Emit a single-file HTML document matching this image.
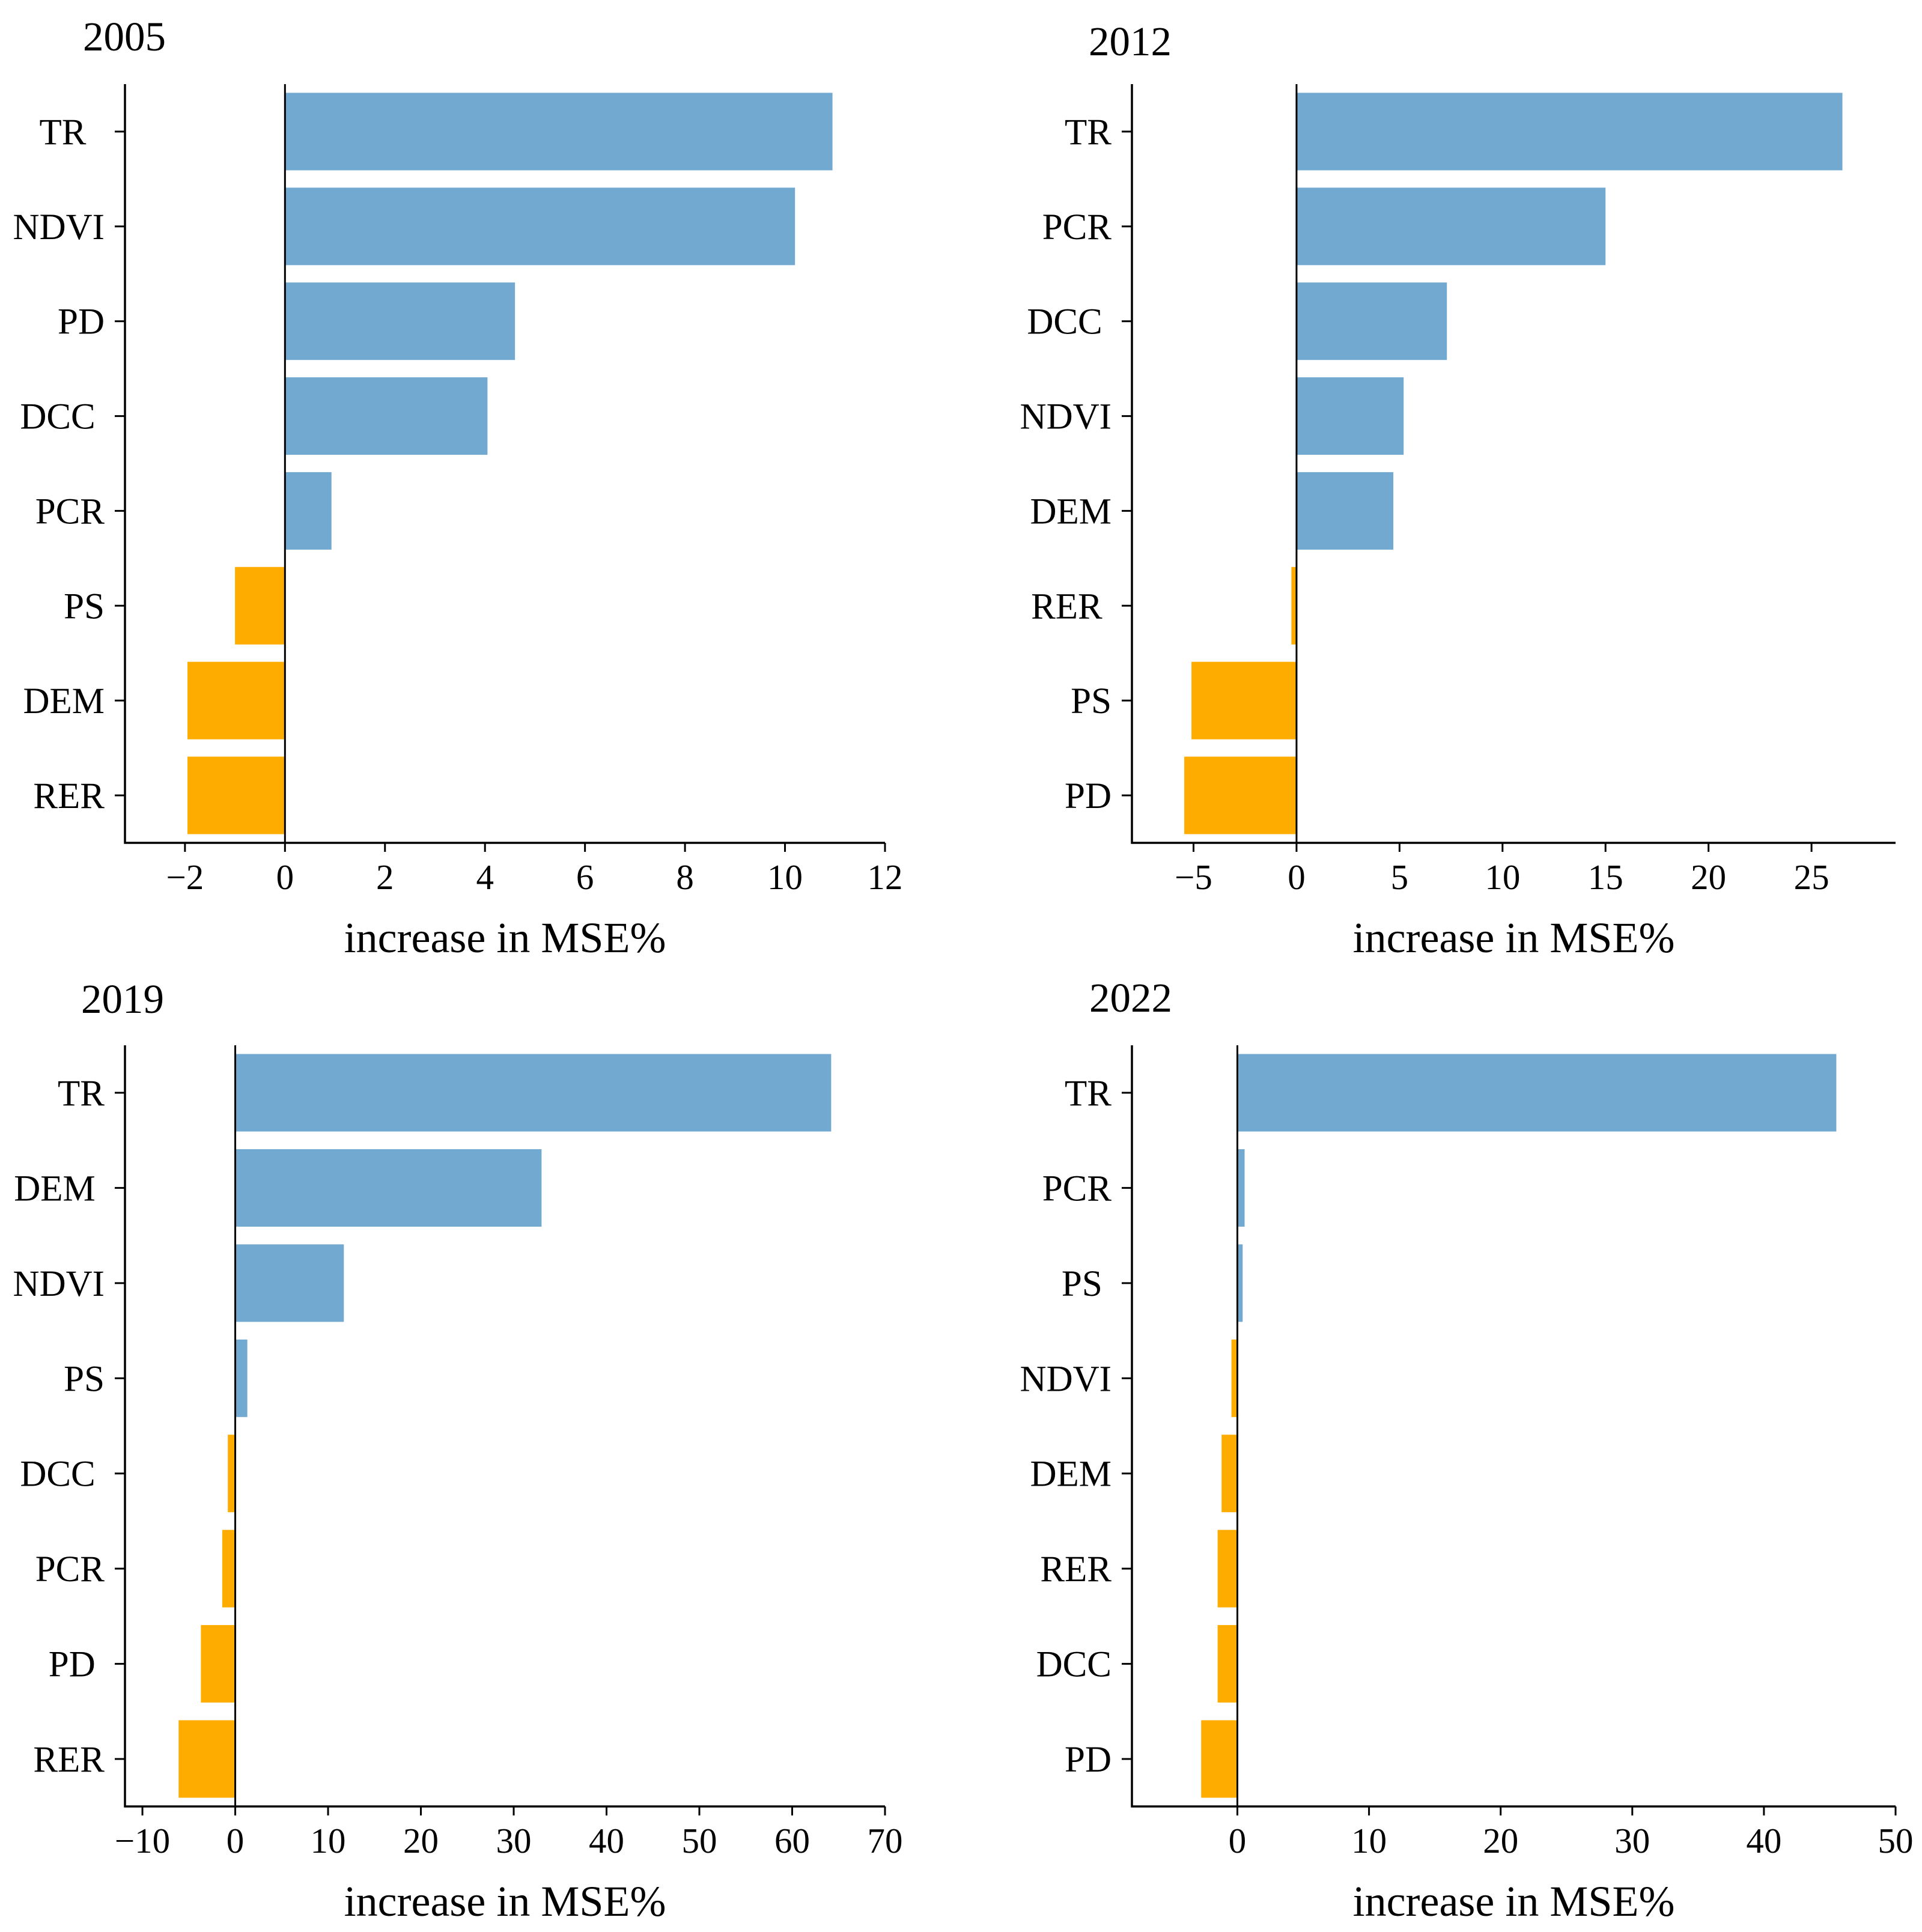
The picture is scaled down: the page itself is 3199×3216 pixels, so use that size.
<!DOCTYPE html>
<html><head><meta charset="utf-8"><style>
html,body{margin:0;padding:0;background:#fff}
svg{display:block}
text{font-family:"Liberation Serif",serif;fill:#000}
</style></head><body>
<svg id="chart" width="3199" height="3216" viewBox="0 0 3199 3216" xmlns="http://www.w3.org/2000/svg"></svg>
<script>
const cats2005 = ["TR  ","NDVI","PD","DCC ","PCR","PS","DEM","RER"];
const vals2005 = [10.95,10.2,4.6,4.05,0.93,-1.0,-1.95,-1.95];
const ticks2005 = [-2,0,2,4,6,8,10,12];
const cats2012 = ["TR","PCR","DCC ","NDVI","DEM","RER ","PS","PD"];
const vals2012 = [26.5,15.0,7.3,5.2,4.7,-0.25,-5.1,-5.45];
const ticks2012 = [-5,0,5,10,15,20,25];
const cats2019 = ["TR","DEM ","NDVI","PS","DCC ","PCR","PD ","RER"];
const vals2019 = [64.2,33.0,11.7,1.3,-0.8,-1.4,-3.7,-6.1];
const ticks2019 = [-10,0,10,20,30,40,50,60,70];
const cats2022 = ["TR","PCR","PS ","NDVI","DEM","RER","DCC","PD"];
const vals2022 = [45.5,0.55,0.4,-0.45,-1.2,-1.5,-1.5,-2.75];
const ticks2022 = [0,10,20,30,40,50];
const years = ["2005","2012","2019","2022"];

const NS="http://www.w3.org/2000/svg";
const svg=document.getElementById('chart');
function mk(tag,attrs,parent){const e=document.createElementNS(NS,tag);for(const k in attrs)e.setAttribute(k,attrs[k]);(parent||svg).appendChild(e);return e;}

const panels=[
 {cats:cats2005,vals:vals2005,ticks:ticks2005,year:years[0],L:208,R:1473,T:140,B:1403,xmin:-3.2,xmax:12,tx:138,ty:84},
 {cats:cats2012,vals:vals2012,ticks:ticks2012,year:years[1],L:1884,R:3155,T:140,B:1403,xmin:-7.99,xmax:29.08,tx:1812,ty:92},
 {cats:cats2019,vals:vals2019,ticks:ticks2019,year:years[2],L:208,R:1473,T:1740,B:3007,xmin:-11.88,xmax:70,tx:135,ty:1686},
 {cats:cats2022,vals:vals2022,ticks:ticks2022,year:years[3],L:1884,R:3155,T:1740,B:3007,xmin:-8.01,xmax:50,tx:1813,ty:1684}
];

panels.forEach((p,pi)=>{
  const g=mk('g',{});
  
  
  const xs=v=>p.L+(v-p.xmin)/(p.xmax-p.xmin)*(p.R-p.L);
  const step=(p.B-p.T-158)/(p.cats.length-1);
  const yc=i=>p.T+79+i*step;
  const bh=129;
  p.vals.forEach((v,i)=>{
    const x0=xs(0),x1=xs(v);
    const r=mk('rect',{x:Math.min(x0,x1),y:yc(i)-bh/2,width:Math.abs(x1-x0),height:bh,fill:v>=0?'#72a9d1':'#ffac00'},g);
    
    
    const tk=mk('line',{x1:p.L-17,x2:p.L,y1:yc(i),y2:yc(i),stroke:'#000','stroke-width':3},g);
    
    
    const t=mk('text',{x:p.L-34,y:yc(i)+21,'text-anchor':'end','font-size':61,'xml:space':'preserve'},g);
    
    
    t.textContent=p.cats[i].replace(/ /g,'\u00a0');
  });
  const zl=mk('line',{x1:xs(0),x2:xs(0),y1:p.T,y2:p.B,stroke:'#000','stroke-width':3},g);
  
  
  const ya=mk('line',{x1:p.L,x2:p.L,y1:p.T,y2:p.B+1.5,stroke:'#000','stroke-width':3.5},g);
  
  
  const xa=mk('line',{x1:p.L-1.5,x2:p.R,y1:p.B,y2:p.B,stroke:'#000','stroke-width':3.5},g);
  
  
  p.ticks.forEach(tv=>{
    const x=xs(tv);
    const tl=mk('line',{x1:x,x2:x,y1:p.B,y2:p.B+15,stroke:'#000','stroke-width':3},g);
    
    
    const tt=mk('text',{x:x,y:p.B+77,'text-anchor':'middle','font-size':59},g);
    
    
    tt.textContent=tv<0?'\u2212'+Math.abs(tv):String(tv);
  });
  const xl=mk('text',{x:(p.L+p.R)/2,y:p.B+182,'text-anchor':'middle','font-size':72},g);
  
  
  xl.textContent='increase in MSE%';
  const ti=mk('text',{x:p.tx,y:p.ty,'font-size':69},g);
  
  
  ti.textContent=p.year;
});
</script>
</body></html>
